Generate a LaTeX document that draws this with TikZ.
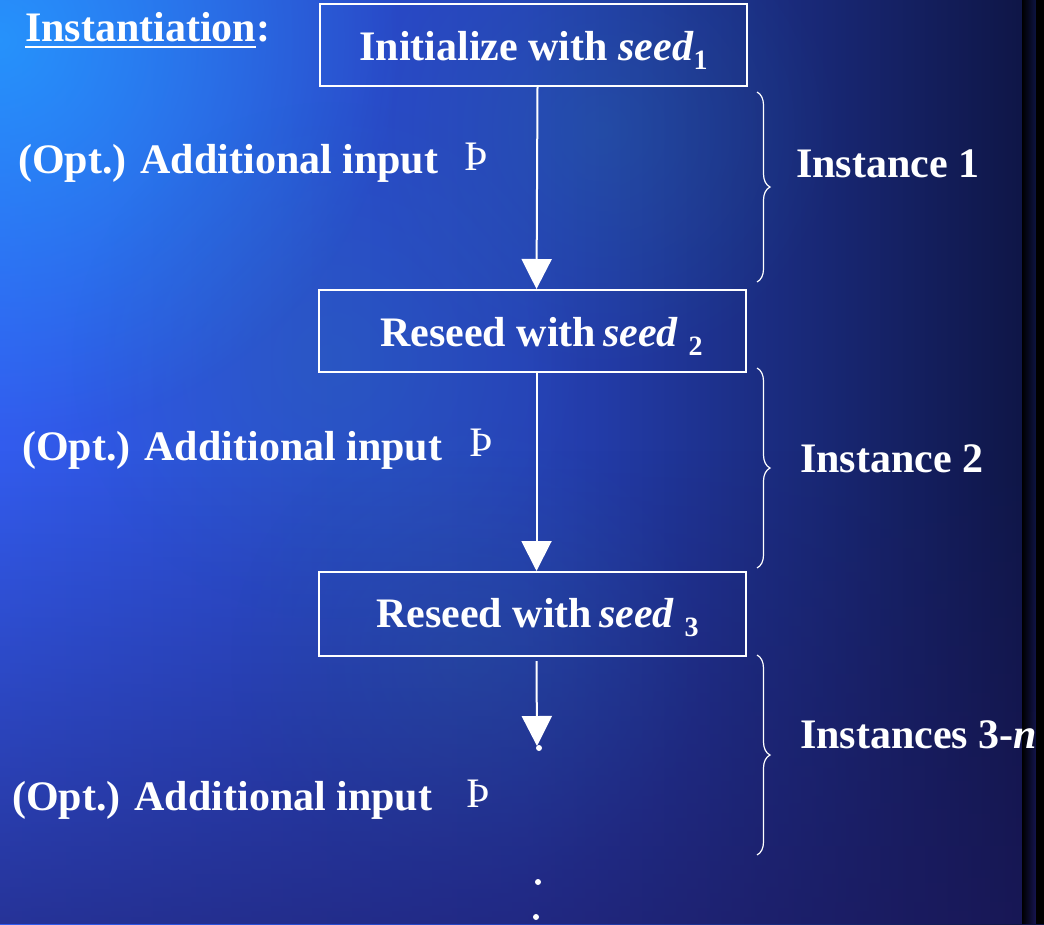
\documentclass[tikz,border=0pt]{standalone}
\usepackage{fontspec}
\setmainfont{Liberation Serif}
\usetikzlibrary{arrows.meta,decorations.pathreplacing,fadings}
\definecolor{bgL}{RGB}{50,92,238}
\definecolor{bgM}{RGB}{38,66,185}
\definecolor{bgR}{RGB}{14,20,66}
\definecolor{glow}{RGB}{35,160,255}
\definecolor{teal}{RGB}{40,125,165}
\definecolor{deep}{RGB}{30,24,95}
\tikzfading[name=softglow, inner color=transparent!0, outer color=transparent!100]
\tikzset{
  stepbox/.style={draw=white, line width=2pt, inner sep=0pt, minimum width=427pt,
    text height=56pt, text depth=26pt, text=white,
    font=\fontsize{42}{48}\selectfont\bfseries},
  lbl/.style={inner sep=0pt, text=white, font=\fontsize{42}{48}\selectfont\bfseries, anchor=base west},
  arrsym/.style={inner sep=0pt, text=white, font=\fontsize{42}{46}\selectfont, anchor=base west},
  flow/.style={draw=white, line width=2pt, -{Triangle[width=30pt,length=30pt]}},
  bracedec/.style={draw=white, line width=1.2pt, decorate, decoration={brace, amplitude=13pt}},
  dotc/.style={fill=white, circle, inner sep=0pt, minimum size=6pt}
}
\newcommand{\subsc}[1]{\raisebox{-9pt}{\fontsize{28}{30}\selectfont #1}}
\begin{document}
\begin{tikzpicture}[x=1pt,y=-1pt]
\useasboundingbox (0,0) rectangle (1044,924);
% background
\shade[left color=bgL, right color=bgR, middle color=bgM] (0,0) rectangle (1044,924);
\fill[glow, path fading=softglow, opacity=0.8] (0,40) circle (400);
\fill[teal, path fading=softglow, opacity=0.22] (330,360) circle (260);
\fill[teal, path fading=softglow, opacity=0.25] (470,660) circle (240);
\fill[teal, path fading=softglow, opacity=0.25] (600,130) circle (240);
\fill[deep, path fading=north, opacity=0.6] (0,450) rectangle (1044,924);
\fill[black, path fading=east] (1022,0) rectangle (1036,924);
\fill[black] (1036,0) rectangle (1044,924);
% title
\node[lbl] (inst) at (25,41) {Instantiation};
\node[lbl, anchor=base west] (colon) at (inst.base east) {:};
\draw[white, line width=2.5pt] ([yshift=-6pt]inst.base west) -- ([yshift=-6pt]inst.base east);
% boxes
\node[stepbox] (b1) at (533.5,45) {Initialize with \textit{seed}\subsc{1}};
\node[stepbox] (b2) at (532.5,331) {\hspace*{18pt}Reseed with\,\textit{seed}\ \subsc{2}};
\node[stepbox, text height=55pt, text depth=29pt] (b3) at (532.5,614) {\hspace*{10pt}Reseed with\,\textit{seed}\ \subsc{3}};
% arrows
\coordinate (end3) at (537,746);
\draw[flow] ([xshift=4pt]b1.south) -- ([xshift=4pt]b2.north);
\draw[flow] ([xshift=4pt]b2.south) -- ([xshift=4pt]b3.north);
\draw[flow] ([xshift=4pt,yshift=-4pt]b3.south) -- (end3);
\node[dotc] (d0) at (539,748) {};
\node[dotc] (d1) at (538,882) {};
\node[dotc] (d2) at (536,917) {};
% left labels
\node[lbl] (in1) at (18,173) {(Opt.) Additional input};
\node[arrsym] (s1) at (464,170) {Þ};
\node[lbl] (in2) at (22,460) {(Opt.) Additional input};
\node[arrsym] (s2) at (469,456) {Þ};
\node[lbl] (in3) at (12,810) {(Opt.) Additional input};
\node[arrsym] (s3) at (466,807) {Þ};
% braces
\draw[bracedec] (757,92) -- (757,282);
\draw[bracedec] (757,368) -- (757,568);
\draw[bracedec] (757,655) -- (757,855);
\node[lbl] (i1) at (796,177) {Instance 1};
\node[lbl] (i2) at (800,472) {Instance 2};
\node[lbl] (i3) at (800,748) {Instances 3-\textit{n}};
\end{tikzpicture}
\end{document}
